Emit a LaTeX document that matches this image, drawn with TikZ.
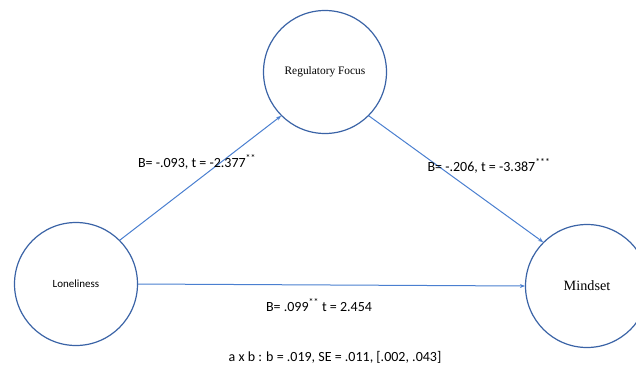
\documentclass[tikz,border=0pt]{standalone}
\usepackage{fontspec}
\setmainfont{Carlito}
\newfontfamily\timesfont{Liberation Serif}
\usetikzlibrary{arrows.meta}
\definecolor{ringblue}{HTML}{3A63A6}
\definecolor{pathblue}{HTML}{4A7FD0}
\tikzset{
  var/.style={draw=ringblue, line width=1.2pt, circle, minimum size=123pt, inner sep=0pt},
  path/.style={draw=pathblue, line width=1pt, -{Stealth[length=5pt,width=4pt]}},
  coef/.style={font=\fontsize{14}{16}\selectfont}
}
\begin{document}
\begin{tikzpicture}[
  x=1pt, y=-1pt
]
\useasboundingbox (0,0) rectangle (636,367);
\clip (0,0) rectangle (636,367);

\node [var, font=\timesfont\fontsize{11.4}{13}\selectfont] (reg) at (325,72) {Regulatory Focus};
\node [var, font=\fontsize{11}{13}\selectfont] (lone) at (76,284) {Loneliness};
\node [var, font=\timesfont\fontsize{14.2}{16}\selectfont] (mind) at (587,286) {Mindset};

\draw [path] (lone.45) -- (reg.225);
\draw [path] (reg.-45) -- (mind.135);
\draw [path] (lone.0) -- (mind.180);

\node [coef] (a) at (197,162) {B= -.093, t = -2.377\textsuperscript{**}};
\node [coef] (b) at (489,166) {B= -.206, t = -3.387\textsuperscript{***}};
\node [coef] (c) at (319,305) {B= .099\textsuperscript{**} t = 2.454};
\node [coef] (ab) at (335,357) {a x b : b = .019, SE = .011, [.002, .043]};
\end{tikzpicture}
\end{document}
